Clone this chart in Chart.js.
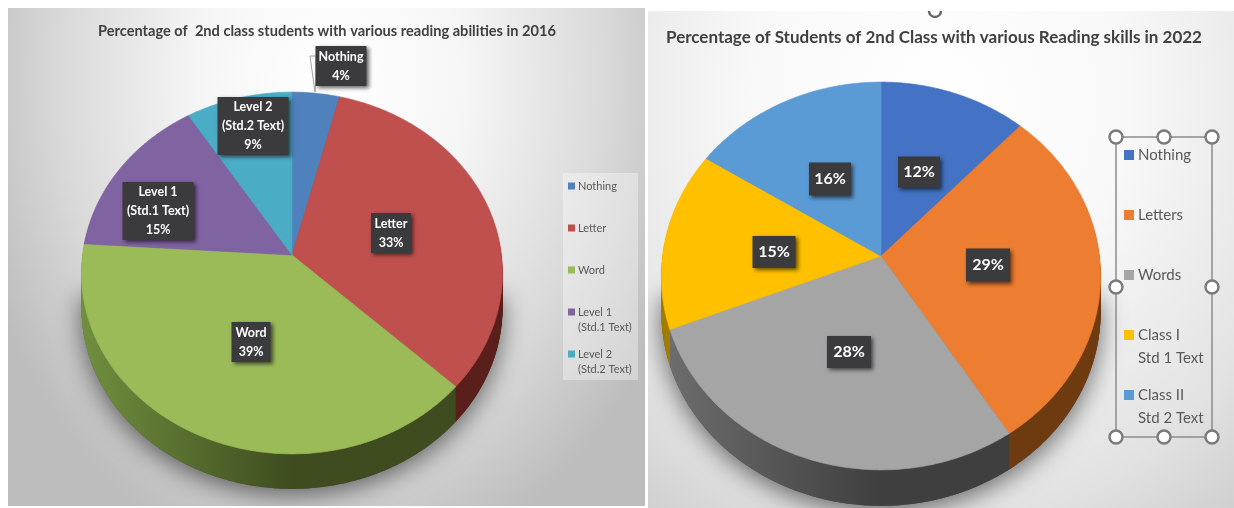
<!DOCTYPE html>
<html>
<head>
<meta charset="utf-8">
<title>Reading abilities of 2nd class students</title>
<script src="https://cdn.jsdelivr.net/npm/chart.js@4/dist/chart.umd.min.js"></script>
<style>
  html, body { margin: 0; padding: 0; background: #fff; overflow: hidden; }
  canvas { position: absolute; display: block; }
  #pie2016 {
    left: 8px; top: 8px;
    background: radial-gradient(ellipse 375px 500px at 325px 70px, #fff 0%, #f6f6f6 35%, #dadada 72%, #bdbdbd 100%);
  }
  #pie2022 {
    left: 648px; top: 11px;
    background: radial-gradient(ellipse 480px 520px at 290px 90px, #fff 0%, #f8f8f8 40%, #e2e2e2 80%, #cfcfcf 100%);
  }
</style>
</head>
<body>
<canvas id="pie2016" width="637" height="498"></canvas>
<canvas id="pie2022" width="586" height="497"></canvas>
<script>
// 2016 survey
const title2016 = "Percentage of  2nd class students with various reading abilities in 2016";
const categories2016 = ["Nothing", "Letter", "Word", "Level 1", "Level 2"];
const subLabels2016 = ["", "", "", "(Std.1 Text)", "(Std.2 Text)"];
const values2016 = [4, 33, 39, 15, 9];
const colors2016 = ["#4f81bd", "#c0504d", "#9bbb59", "#8064a2", "#4bacc6"];

// 2022 survey
const title2022 = "Percentage of Students of 2nd Class with various Reading skills in 2022";
const categories2022 = ["Nothing", "Letters", "Words", "Class I", "Class II"];
const subLabels2022 = ["", "", "", "Std 1 Text", "Std 2 Text"];
const values2022 = [12, 29, 28, 15, 16];
const colors2022 = ["#4472c4", "#ed7d31", "#a5a5a5", "#ffc000", "#5b9bd5"];

const FONT = "Lato, 'Open Sans', sans-serif";

// draws the pie in perspective with a rim below it, from the arc geometry chart.js worked out
const tiltedPie = {
  id: 'tiltedPie',
  afterLayout(chart, args, opts) {
    // the title is centred on the panel, not on the pie, and may run wider than the pie
    chart.titleBlock.left += opts.titleShift - 150;
    chart.titleBlock.right += opts.titleShift + 150;
  },
  beforeDatasetDraw(chart, args, opts) {
    const ctx = chart.ctx;
    const arcs = args.meta.data;
    const cx = arcs[0].x, cy = arcs[0].y, r = arcs[0].outerRadius;

    function trace(a0, a1, dy, closeToCentre) {
      const steps = Math.max(2, Math.ceil((a1 - a0) / 0.01));
      ctx.beginPath();
      if (closeToCentre) ctx.moveTo(cx, cy + dy);
      for (let s = 0; s <= steps; s++) {
        const a = a0 + (a1 - a0) * s / steps;
        const w = 1 - opts.perspective * Math.sin(a);
        const x = cx + r * Math.cos(a) / w;
        const y = cy + dy + r * opts.squash * Math.sin(a) / w;
        if (s === 0 && !closeToCentre) ctx.moveTo(x, y); else ctx.lineTo(x, y);
      }
      ctx.closePath();
    }

    // soft shadow under the near half
    ctx.save();
    ctx.shadowColor = 'rgba(0,0,0,0.55)';
    ctx.shadowBlur = 24;
    ctx.shadowOffsetY = 6;
    ctx.fillStyle = '#555';
    trace(0, Math.PI, opts.depth, false);
    ctx.fill();
    ctx.restore();

    // rim: the slices repeated downwards in darker shades
    const fills = opts.rimLight.map(function (light, i) {
      const g = ctx.createLinearGradient(cx - r, 0, cx, 0);
      g.addColorStop(0, light);
      g.addColorStop(1, opts.rimDark[i]);
      return g;
    });
    for (let d = opts.depth; d >= 1; d--) {
      arcs.forEach(function (arc, i) {
        ctx.fillStyle = fills[i];
        trace(arc.startAngle, arc.endAngle, d, true);
        ctx.fill();
      });
    }

    // top face
    arcs.forEach(function (arc, i) {
      const c = chart.data.datasets[0].backgroundColor[i];
      ctx.fillStyle = c;
      ctx.strokeStyle = c;
      ctx.lineWidth = 0.6;
      trace(arc.startAngle, arc.endAngle, 0, true);
      ctx.fill();
      ctx.stroke();
    });
    return false;
  },
  afterDraw(chart, args, opts) {
    const ctx = chart.ctx;
    const arcs = chart.getDatasetMeta(0).data;
    const ds = chart.data.datasets[0];

    if (opts.callout) {
      ctx.save();
      ctx.fillStyle = '#fff';
      ctx.strokeStyle = '#8a8a8a';
      ctx.lineWidth = 0.8;
      ctx.beginPath();
      opts.callout.forEach(function (p, i) {
        const x = arcs[0].x + p[0], y = arcs[0].y + p[1];
        if (i === 0) ctx.moveTo(x, y); else ctx.lineTo(x, y);
      });
      ctx.closePath();
      ctx.fill();
      ctx.stroke();
      ctx.restore();
    }

    // value tags
    ds.data.forEach(function (v, i) {
      const lines = opts.tagText(i, v);
      const pos = opts.tagPos[i];
      const x = arcs[0].x + pos[0], y = arcs[0].y + pos[1];
      const bw = pos[2], bh = pos[3];
      ctx.save();
      ctx.shadowColor = 'rgba(0,0,0,0.6)';
      ctx.shadowBlur = 4;
      ctx.shadowOffsetX = 2;
      ctx.shadowOffsetY = 2;
      ctx.fillStyle = '#3b3b3d';
      ctx.fillRect(x - bw / 2, y - bh / 2, bw, bh);
      ctx.restore();
      ctx.fillStyle = '#fff';
      ctx.font = 'bold ' + opts.tagSize + 'px ' + FONT;
      ctx.textAlign = 'center';
      ctx.textBaseline = 'middle';
      lines.forEach(function (t, k) {
        ctx.fillText(t, x, y + (k - (lines.length - 1) / 2) * opts.tagLine);
      });
    });

    // legend
    const lg = opts.legend;
    if (lg.panel) {
      ctx.fillStyle = lg.panel[4];
      ctx.fillRect(lg.panel[0], lg.panel[1], lg.panel[2], lg.panel[3]);
    }
    ctx.font = lg.size + 'px ' + FONT;
    ctx.textAlign = 'left';
    ctx.textBaseline = 'middle';
    chart.data.labels.forEach(function (name, i) {
      const y = lg.y + i * lg.step;
      ctx.fillStyle = ds.backgroundColor[i];
      ctx.fillRect(lg.x, y - lg.box / 2, lg.box, lg.box);
      ctx.fillStyle = '#595959';
      ctx.fillText(name, lg.x + lg.box + lg.gap, y);
      if (lg.sub[i]) ctx.fillText(lg.sub[i], lg.x + lg.box + lg.gap, y + lg.subStep);
    });

    // selection frame around the legend
    if (opts.frame) {
      const f = opts.frame;
      ctx.strokeStyle = '#8c8c8c';
      ctx.lineWidth = 1.5;
      ctx.strokeRect(f.x, f.y, f.w, f.h);
      const dots = [[0, 0], [.5, 0], [1, 0], [0, .5], [1, .5], [0, 1], [.5, 1], [1, 1]];
      ctx.lineWidth = 2.4;
      ctx.strokeStyle = '#7a7a7a';
      ctx.fillStyle = '#fff';
      dots.forEach(function (p) {
        ctx.beginPath();
        ctx.arc(f.x + p[0] * f.w, f.y + p[1] * f.h, 6.5, 0, Math.PI * 2);
        ctx.fill();
        ctx.stroke();
      });
      // rotate handle, cut off by the top edge
      ctx.strokeStyle = '#666';
      ctx.beginPath();
      ctx.arc(f.rotateX, 0, 6, 0, Math.PI);
      ctx.stroke();
    }
  }
};

function createPie(id, title, labels, values, colors, opts) {
  return new Chart(document.getElementById(id), {
    type: 'pie',
    plugins: [tiltedPie],
    data: {
      labels: labels,
      datasets: [{
        data: values,
        backgroundColor: colors,
        borderColor: colors,
        borderWidth: 1
      }]
    },
    options: {
      responsive: false,
      animation: false,
      layout: { padding: opts.padding },
      plugins: {
        legend: { display: false },
        tooltip: { enabled: false },
        title: {
          display: true,
          text: title,
          color: '#404040',
          font: { family: FONT, size: opts.titleSize, weight: 'bold' },
          padding: opts.titlePadding
        },
        tiltedPie: opts.tilt
      }
    }
  });
}

window.addEventListener('load', function () {
  createPie('pie2016', title2016, categories2016, values2016, colors2016, {
    padding: { left: 74, right: 143, top: 0, bottom: 41 },
    titleSize: 14.6,
    titlePadding: { top: 14.2, bottom: 5.3 },
    tilt: {
      perspective: 0.0995, squash: 0.855, depth: 35, titleShift: 35,
      rimLight: ["#2f4f77", "#5a1e1b", "#708f3e", "#4f3d66", "#2f6c7c"],
      rimDark: ["#2f4f77", "#5a1e1b", "#3e4c1f", "#4f3d66", "#2f6c7c"],
      tagSize: 12.5, tagLine: 19,
      tagText: function (i, v) {
        const t = [categories2016[i]];
        if (subLabels2016[i]) t.push(subLabels2016[i]);
        t.push(v + '%');
        return t;
      },
      tagPos: [[49, -189, 51, 40], [99, -22, 40, 40], [-41, 87, 39, 40], [-134, -44, 71, 58], [-39, -129, 71, 58]],
      callout: [[18, -199], [24, -199], [24, -172], [23, -163]],
      legend: {
        panel: [555, 165, 75, 207, 'rgba(255,255,255,0.35)'],
        x: 560, y: 178, step: 42, box: 7, gap: 3, size: 11, subStep: 15, sub: subLabels2016
      }
    }
  });

  createPie('pie2022', title2022, categories2022, values2022, colors2022, {
    padding: { left: 14, right: 134, top: 0, bottom: 33 },
    titleSize: 17,
    titlePadding: { top: 16.8, bottom: -11.2 },
    tilt: {
      perspective: 0.1031, squash: 0.878, depth: 36, titleShift: 53,
      rimLight: ["#2c4a80", "#6e3a10", "#6e6e6e", "#a07c00", "#3b6589"],
      rimDark: ["#2c4a80", "#6e3a10", "#3f3f3f", "#a07c00", "#3b6589"],
      tagSize: 16, tagLine: 19,
      tagText: function (i, v) { return [v + '%']; },
      tagPos: [[38, -84, 42, 31], [107, 9, 44, 33], [-32, 96, 44, 32], [-107, -4, 43, 32], [-51, -77, 42, 33]],
      legend: {
        x: 476, y: 144, step: 60, box: 10, gap: 4, size: 15, subStep: 23, sub: subLabels2022
      },
      frame: { x: 468, y: 126, w: 96, h: 300, rotateX: 287 }
    }
  });
});
</script>
</body>
</html>
